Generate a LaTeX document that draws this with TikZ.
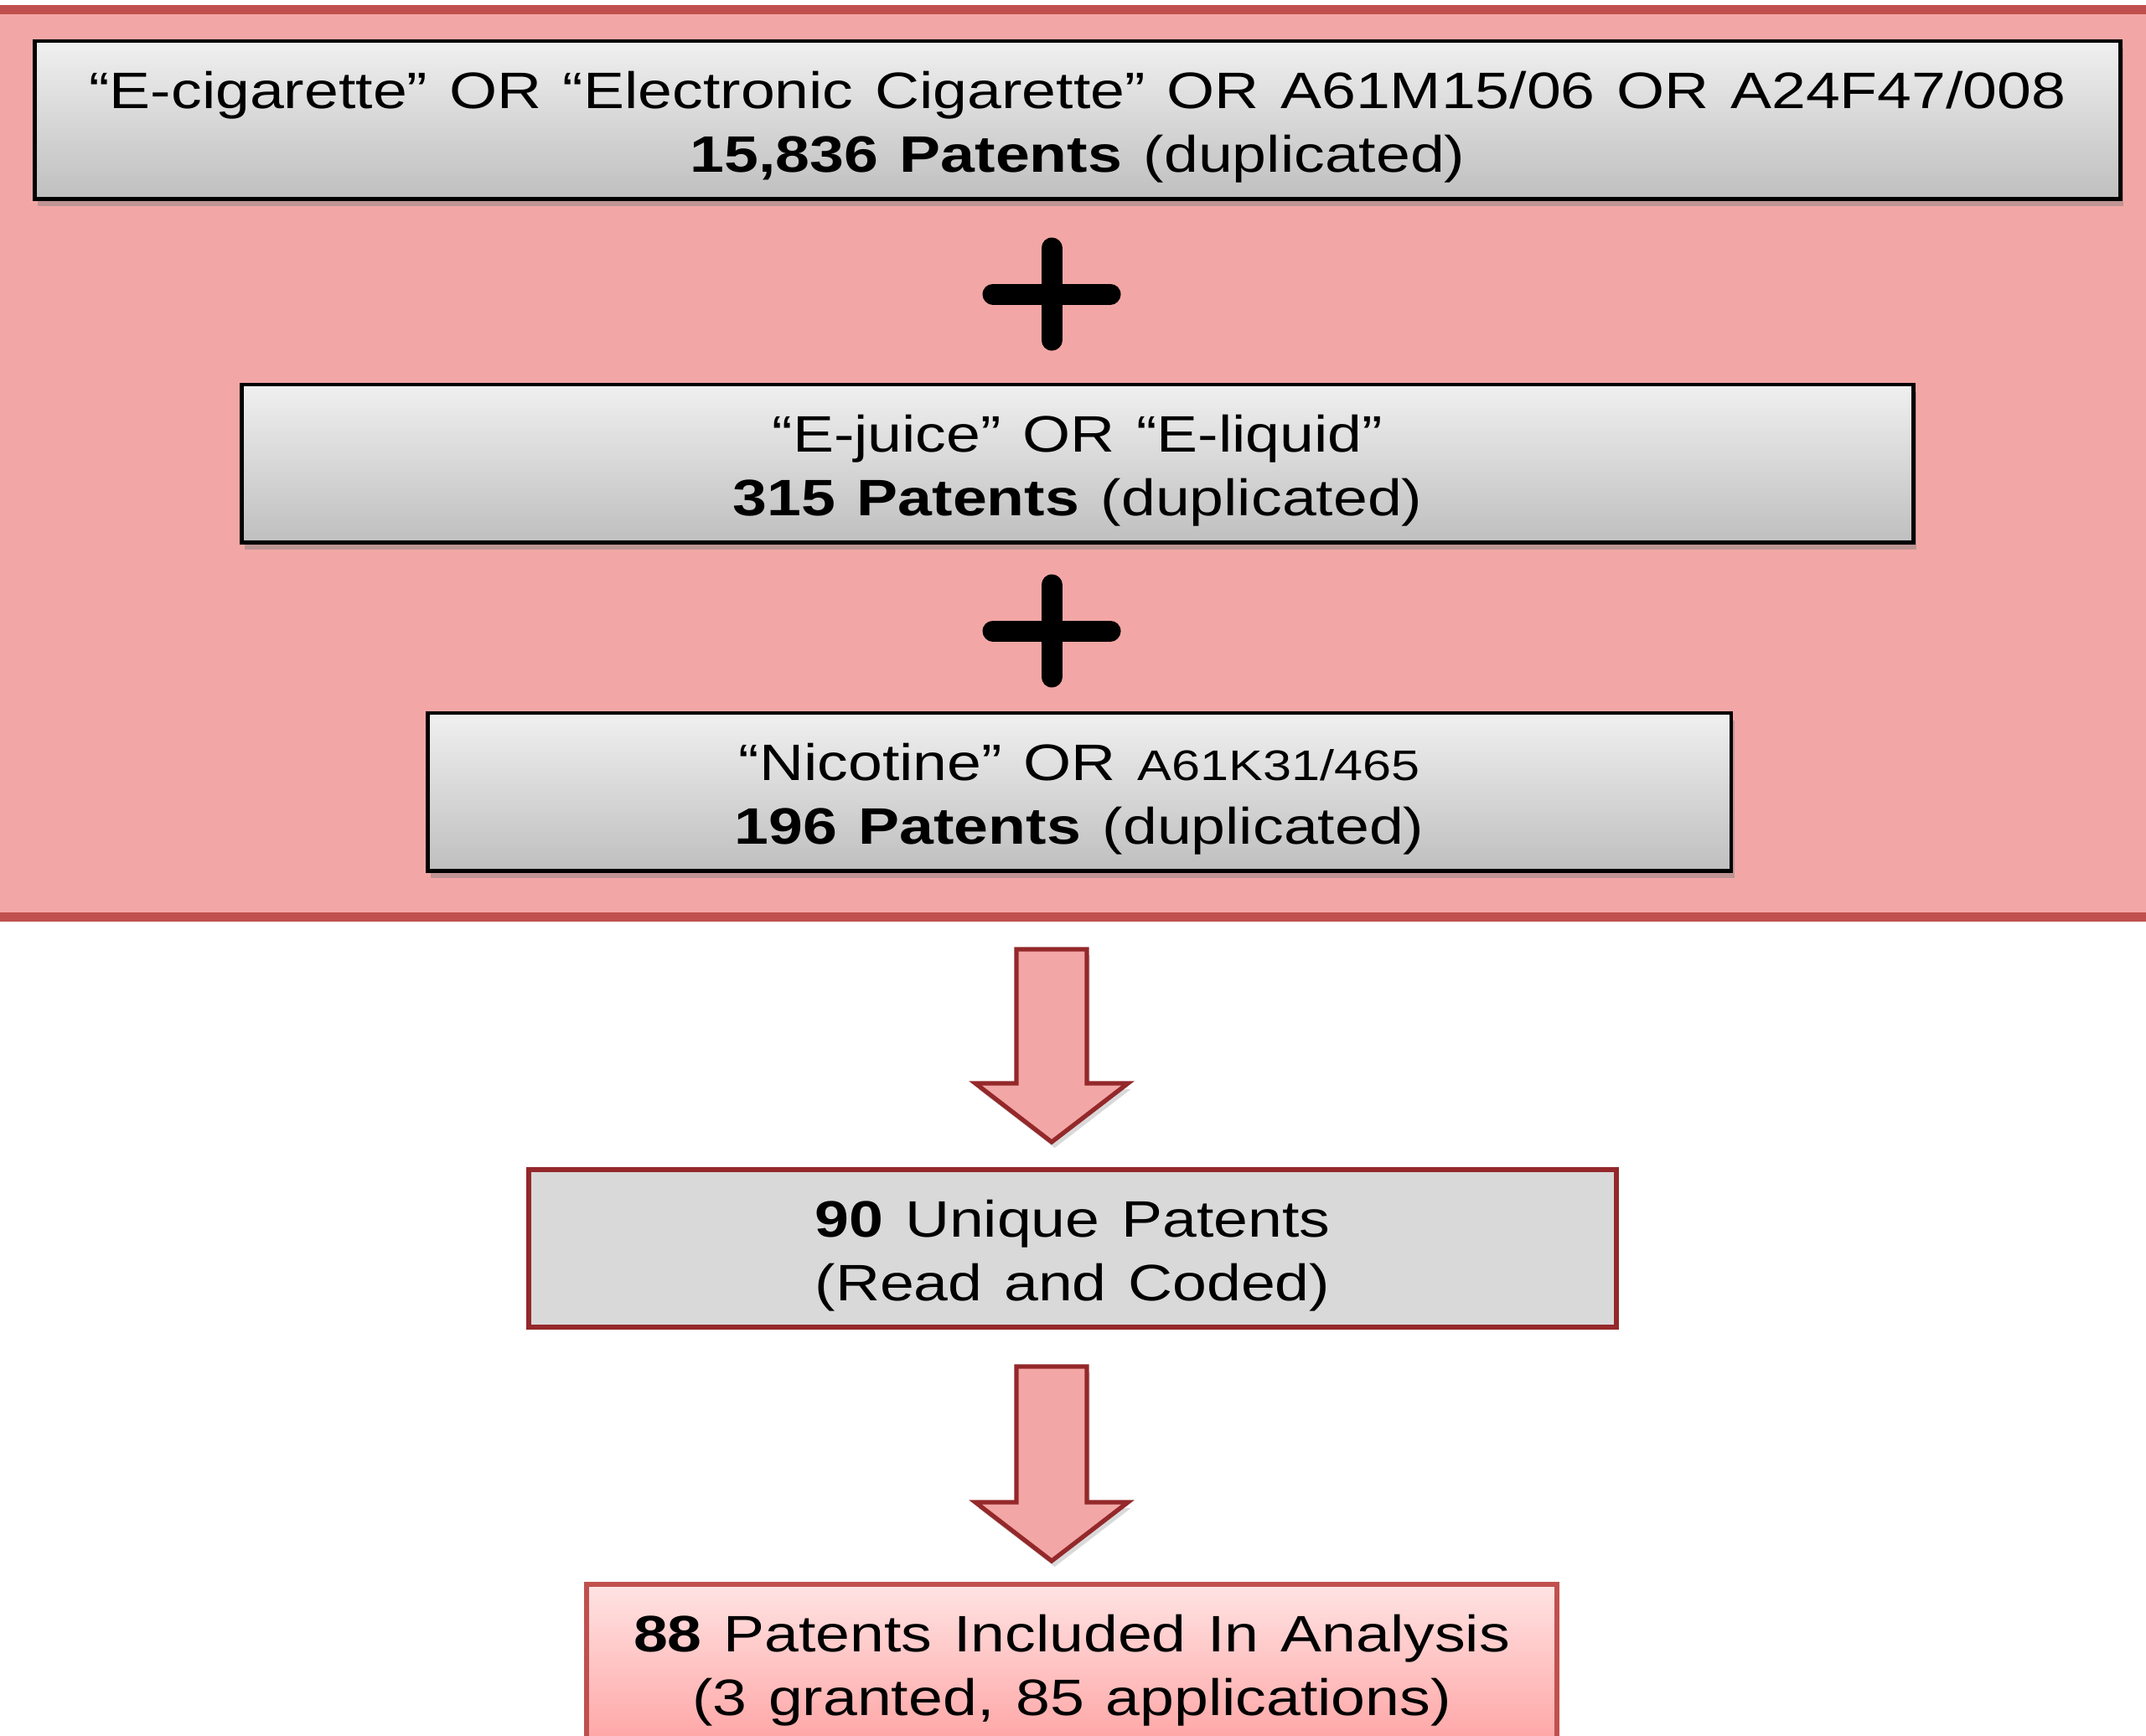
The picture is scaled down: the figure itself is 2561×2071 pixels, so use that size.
\documentclass[tikz,border=0pt]{standalone}
\usepackage{fontspec}
\setmainfont{Liberation Sans}[FakeStretch=1.2]
\usepackage{tikz}
\usetikzlibrary{positioning}
\usetikzlibrary{shadows}
\usetikzlibrary{calc}
\definecolor{bandfill}{HTML}{F2A7A6}
\definecolor{bandline}{HTML}{C0504D}
\definecolor{darkred}{HTML}{94282A}
\newcommand{\boxfont}{\fontsize{17.4}{21.4}\selectfont\spaceskip=0.42em plus 0.1em\relax}
\newcommand{\topgap}{\rule{0pt}{17.5pt}}
\tikzset{text box/.style={minimum height=1.88cm,align=center,inner sep=0pt,font=\boxfont},
         search box/.style={text box,draw=black,line width=1.4pt,top color=black!6,bottom color=black!25,drop shadow={shadow xshift=1pt,shadow yshift=-2.5pt,opacity=0.45}},
         result box/.style={text box,draw=darkred,line width=1.7pt,fill=black!15},
         final box/.style={result box,draw=bandline,top color=red!11,bottom color=red!35,drop shadow={shadow xshift=0pt,shadow yshift=-2pt,opacity=0.3}},
         plus mark/.style={line width=0.25cm,line cap=round,black,drop shadow={shadow xshift=1pt,shadow yshift=-1.5pt,opacity=0.4}},
         block arrow/.style={draw=darkred,line width=1.5pt,fill=bandfill,line join=miter,drop shadow={shadow xshift=1pt,shadow yshift=-2pt,opacity=0.3}},}
\newcommand{\downblock}[3]{\draw[block arrow] (#1-42,#2) -- (#1+42,#2) -- (#1+42,#3-70) -- (#1+91,#3-70) -- (#1,#3) -- (#1-91,#3-70) -- (#1-42,#3-70) -- cycle;}

\begin{document}
\begin{tikzpicture}[x=0.01cm,y=-0.01cm]
	\useasboundingbox (0,0) rectangle (2561,2071);
	% pink search band
	\fill[bandfill] (-20,11) rectangle (2581,1094);
	\draw[bandline,line width=0.11cm] (-20,11) -- (2581,11) (-20,1094) -- (2581,1094);

	\node[search box, minimum width=24.87cm] (q1) at (1286,143) {\topgap“E-cigarette” OR “Electronic Cigarette” OR A61M15/06 OR A24F47/008\\ \textbf{15,836 Patents} (duplicated)};
	\node[search box, minimum width=19.94cm] (q2) at (1286,553) {\topgap“E-juice” OR “E-liquid”\\ \textbf{315 Patents} (duplicated)};
	\node[search box, minimum width=15.55cm] (q3) at (1288,945) {\topgap“Nicotine” OR {\fontsize{14.5}{17}\selectfont A61K31/465}\\ \textbf{196 Patents} (duplicated)};

	\coordinate (p1) at (1255,351);
	\coordinate (p2) at (1255,753);
	\foreach \p in {p1,p2}
	    \draw[plus mark] ($(\p)+(-70,0)$) -- ($(\p)+(70,0)$) ($(\p)+(0,-55)$) -- ($(\p)+(0,55)$);

	\node[result box, minimum width=12.97cm] (unique) at (1280,1490) {\topgap\textbf{90} Unique Patents\\ (Read and Coded)};
	\node[final box, minimum width=11.58cm] (final) at (1279,1985) {\topgap\textbf{88} Patents Included In Analysis\\ (3 granted, 85 applications)};

	\downblock{1255}{1133}{1363}
	\downblock{1255}{1631}{1863}
\end{tikzpicture}
\end{document}
